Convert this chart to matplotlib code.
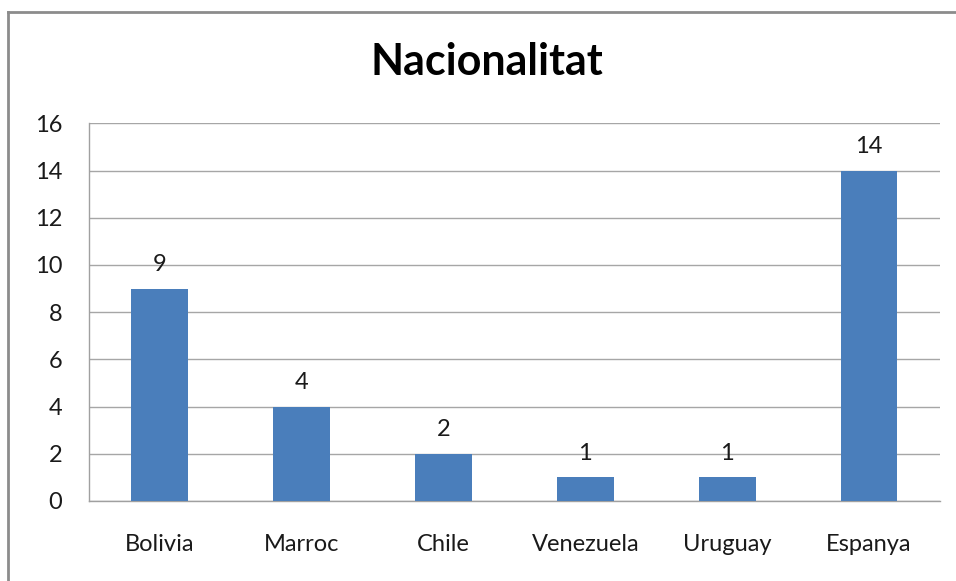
import matplotlib.pyplot as plt
from matplotlib.lines import Line2D

# dades
paisos = ['Bolivia', 'Marroc', 'Chile', 'Venezuela', 'Uruguay', 'Espanya']
valors = [9, 4, 2, 1, 1, 14]
yticks = [0, 2, 4, 6, 8, 10, 12, 14, 16]

plt.rcParams['font.family'] = ['Lato', 'DejaVu Sans']

fig = plt.figure(figsize=(9.56, 5.81), dpi=100)
ax = fig.add_axes([0.0928, 0.1377, 0.8905, 0.6501])

x = range(len(paisos))
bars = ax.bar(x, valors, width=0.4, color='#4A7EBB', zorder=3)

ax.set_xlim(-0.5, len(paisos) - 0.5)
ax.set_ylim(0, 16)
ax.set_yticks(yticks)
ax.set_xticks(list(x))
ax.set_xticklabels(paisos)

ax.grid(axis='y', color='#A6A6A6', linewidth=1.0, zorder=0)
for s in ['top', 'right']:
    ax.spines[s].set_visible(False)
for s in ['left', 'bottom']:
    ax.spines[s].set_color('#A0A0A0')
    ax.spines[s].set_linewidth(1.0)
ax.tick_params(axis='both', length=0, labelsize=17, colors='#1a1a1a')
ax.tick_params(axis='y', pad=19)
ax.tick_params(axis='x', pad=24)

for b, v in zip(bars, valors):
    ax.annotate(str(v), (b.get_x() + b.get_width() / 2, v),
                xytext=(0, 10), textcoords='offset points',
                ha='center', va='bottom', fontsize=17, color='#1a1a1a')

fig.text(0.509, 0.893, 'Nacionalitat', ha='center', va='center',
         fontsize=31, fontweight='bold', color='#000000')

# vora del gràfic
fig.add_artist(Line2D([8 / 956, 8 / 956], [0, 1 - 11.5 / 581],
                      transform=fig.transFigure, color='#8C8C8C', linewidth=2))
fig.add_artist(Line2D([8 / 956, 1], [1 - 11.5 / 581, 1 - 11.5 / 581],
                      transform=fig.transFigure, color='#8C8C8C', linewidth=2))

fig.savefig('out.png', dpi=100)
